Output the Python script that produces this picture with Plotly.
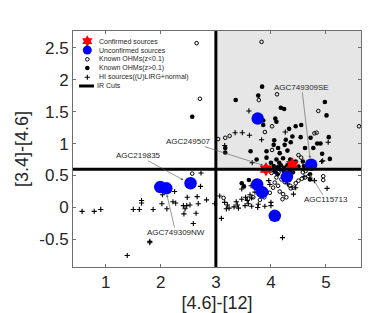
import plotly.graph_objects as go

# ---------------- data ----------------
confirmed_x = [3.91, 4.39]
confirmed_y = [0.60, 0.67]

unconf_x = [3.76, 4.73, 3.75, 3.84, 4.29, 4.07, 2.54, 1.99, 2.10]
unconf_y = [1.39, 0.67, 0.36, 0.24, 0.48, -0.13, 0.38, 0.32, 0.30]

ohm_low_x = [2.65, 2.71, 3.83, 3.78, 4.11, 4.86, 4.02, 5.60, 3.04, 3.17, 3.25, 3.89, 4.79, 4.83,
             4.02, 4.50, 4.55,
             2.57, 3.14, 3.59, 3.68, 4.16, 4.14, 4.01, 4.10, 4.19, 4.25, 4.31, 4.35, 4.13, 4.04,
             3.98, 3.92, 3.83, 3.88, 3.80, 4.22, 4.28, 4.21, 4.41, 4.45, 4.50, 4.56, 4.62, 4.68,
             4.95, 4.95, 3.77, 3.86, 4.07, 4.16, 4.36, 4.58, 4.63]
ohm_low_y = [2.57, 1.70, 2.59, 1.68, 1.77, 1.51, 1.27, 1.27, 1.07, 1.09, 1.12, 1.18, 1.16, 1.17,
             0.90, 0.82, 0.78,
             0.53, 0.15, 0.14, 0.16, 0.60, 0.55, 0.54, 0.47, 0.44, 0.40, 0.44, 0.34, 0.34, 0.31,
             0.23, 0.25, 0.18, 0.16, 0.12, 0.21, 0.16, 0.13, 0.31, 0.38, 0.42, 0.45, 0.47, 0.49,
             0.49, 0.43, 0.29, 0.29, 0.39, 0.25, 0.30, 0.55, 0.57]

ohm_high_x = [2.57, 3.84, 3.36, 3.77, 4.18, 4.24, 4.98, 5.01, 3.86, 3.86, 4.08, 4.10, 4.33, 4.45,
              4.55, 4.39, 4.54, 4.72, 5.05, 4.06, 3.17, 3.17, 3.63, 3.92, 3.92, 4.05, 4.13, 4.16,
              4.25, 4.27, 4.36, 4.30, 4.22, 4.10, 4.62, 4.84, 4.90, 4.93, 5.07, 4.77, 3.74,
              4.00, 4.05, 4.12, 4.18, 4.24, 4.30, 4.35, 4.45, 4.50, 4.58, 3.97, 4.15, 4.60,
              4.07, 4.23, 4.29, 4.71, 4.71, 3.60, 3.47, 3.51, 4.12, 4.35, 4.40]
ohm_high_y = [1.42, 1.89, 1.68, 1.75, 1.56, 1.54, 1.65, 1.44, 1.36, 1.29, 1.39, 1.34, 1.23, 1.27,
              1.29, 1.11, 1.10, 1.09, 1.10, 1.05, 0.93, 0.86, 0.88, 0.88, 0.78, 0.98, 0.93, 0.85,
              0.98, 1.06, 1.02, 0.89, 0.77, 0.75, 0.93, 1.00, 1.00, 0.84, 0.76, 0.93, 0.75,
              0.70, 0.65, 0.63, 0.66, 0.62, 0.66, 0.75, 0.72, 0.64, 0.72, 0.62, 0.70, 0.65,
              0.56, 0.57, 0.53, 0.44, 0.52, 0.43, 0.38, 0.33, 0.52, 0.58, 0.55]

hi_x = [3.60, 3.35, 3.48, 3.61, 4.26, 3.83, 3.16, 5.04, 4.92, 3.66, 4.94,
        2.73, 2.72, 2.25, 2.03, 2.48, 2.66, 2.83, 2.98, 1.65, 1.65, 2.02, 2.22, 2.27, 2.41,
        2.47, 2.53, 2.44, 2.68, 2.11, 1.86, 1.50, 1.61, 0.91, 0.79, 0.57, 2.42, 2.64, 2.59,
        1.80, 1.80, 1.39,
        3.07, 3.16, 3.21, 3.37, 3.39, 3.41, 3.24, 3.33, 3.59, 3.77, 3.76, 3.89, 4.00, 4.00,
        3.10, 3.47, 3.64, 3.71, 3.62, 3.65, 3.54, 3.57, 3.47, 3.53, 3.65, 3.96, 3.98, 4.79,
        5.02, 4.45, 4.41, 4.21, 4.60, 4.30, 3.19]
hi_y = [1.51, 1.17, 1.17, 1.13, 1.18, 1.06, 0.97, 1.02, 0.72, 0.70, 0.73,
        0.54, 0.33, 0.25, 0.20, 0.16, 0.17, 0.12, 0.06, 0.11, 0.07, 0.06, 0.09, 0.07, 0.03,
        0.03, 0.04, -0.02, 0.06, -0.02, -0.03, -0.03, -0.03, -0.03, -0.06, -0.06, -0.10, -0.09, -0.25,
        -0.53, -0.55, -0.75,
        0.18, 0.08, 0.04, 0.09, 0.04, -0.01, -0.01, 0.01, 0.06, 0.05, 0.00, 0.02, 0.03, 0.08,
        -0.17, 0.29, 0.34, 0.24, 0.20, 0.15, 0.16, 0.11, 0.13, 0.03, 0.02, 0.42, 0.36, 0.42,
        0.30, 0.31, 0.21, -0.47, 0.48, 0.37, -0.02]

IR_CUT_X = 3.0
IR_CUT_Y = 0.6

X_RANGE = [0.405, 5.636]
Y_RANGE = [-0.93, 2.76]
X_TICKS = [1, 2, 3, 4, 5]
Y_TICKS = [-0.5, 0, 0.5, 1, 1.5, 2, 2.5]
Y_TICK_LABELS = ["-0.5", "0", "0.5", "1", "1.5", "2", "2.5"]

# source labels: text, text-centre x/y, arrow-head x/y
label_text = ["AGC749309SE", "AGC249507", "AGC219835", "AGC749309NW", "AGC115713"]
label_tx = [4.56, 2.51, 1.60, 2.27, 5.00]
label_ty = [1.88, 1.03, 0.81, -0.39, 0.12]
label_hx = [4.71, 3.86, 2.41, 2.11, 4.71]
label_hy = [0.77, 0.66, 0.43, 0.20, 0.52]

legend_names = ["Confirmed sources", "Unconfirmed sources", "Known OHMs(z<0.1)",
                "Known OHMs(z>0.1)", "HI sources((U)LIRG+normal)", "IR Cuts"]

# ---------------- styles ----------------
TXT = "#262626"
AX = "#6e6e6e"
FONT = "Liberation Sans, Arial, sans-serif"

fig = go.Figure()

# shaded region
fig.add_shape(type="rect", x0=IR_CUT_X, x1=X_RANGE[1], y0=IR_CUT_Y, y1=Y_RANGE[1],
              xref="x", yref="y", fillcolor="#e6e6e6", line_width=0, layer="below")

plus_m = dict(symbol="cross-thin", size=3.7, color="black", line=dict(width=1.1, color="black"))
open_m = dict(symbol="circle-open", size=3.6, color="black", line=dict(width=1))
fill_m = dict(symbol="circle", size=4.6, color="black", line=dict(width=0))
blue_m = dict(symbol="circle", size=12.5, color="#0000ff", line=dict(width=0))
star_m = dict(symbol="hexagram", size=11, color="#ff0000", line=dict(width=0))

fig.add_trace(go.Scatter(x=hi_x, y=hi_y, mode="markers", marker=plus_m, showlegend=False))
fig.add_trace(go.Scatter(x=ohm_low_x, y=ohm_low_y, mode="markers", marker=open_m, showlegend=False))
fig.add_trace(go.Scatter(x=ohm_high_x, y=ohm_high_y, mode="markers", marker=fill_m, showlegend=False))
fig.add_trace(go.Scatter(x=unconf_x, y=unconf_y, mode="markers", marker=blue_m, showlegend=False))
fig.add_trace(go.Scatter(x=confirmed_x, y=confirmed_y, mode="markers", marker=star_m, showlegend=False))

# IR cut lines
fig.add_shape(type="line", x0=IR_CUT_X, x1=IR_CUT_X, y0=0, y1=1, xref="x", yref="y domain",
              line=dict(color="black", width=3))
fig.add_shape(type="line", x0=0, x1=1, y0=IR_CUT_Y, y1=IR_CUT_Y, xref="x domain", yref="y",
              line=dict(color="black", width=3))

# labels with arrows
for t, tx, ty, hx, hy in zip(label_text, label_tx, label_ty, label_hx, label_hy):
    fig.add_annotation(x=hx, y=hy, ax=tx, ay=ty, xref="x", yref="y", axref="x", ayref="y",
                       text=t, showarrow=True, arrowhead=2, arrowsize=0.8, arrowwidth=0.6,
                       arrowcolor="#555555", standoff=0, startstandoff=0,
                       font=dict(family=FONT, size=8, color=TXT), borderpad=0)

# manual legend (layout-level, in an overlay axis spanning [0,1])
LEG_Y = [0.957, 0.919, 0.880, 0.843, 0.804, 0.767]
LEG_SYM_X = 0.0497
LEG_TXT_X = 0.083
leg_markers = [
    dict(symbol="hexagram", size=9, color="#ff0000", line=dict(width=0)),
    dict(symbol="circle", size=9, color="#0000ff", line=dict(width=0)),
    dict(symbol="circle-open", size=3.6, color="black", line=dict(width=1)),
    dict(symbol="circle", size=4.6, color="black"),
    dict(symbol="cross-thin", size=3.7, color="black", line=dict(width=1.1, color="black")),
]
for m, ly in zip(leg_markers, LEG_Y[:5]):
    fig.add_trace(go.Scatter(x=[LEG_SYM_X], y=[ly], xaxis="x2", yaxis="y2", mode="markers",
                             marker=m, showlegend=False, hoverinfo="skip"))
fig.add_trace(go.Scatter(x=[0.021, 0.073], y=[LEG_Y[5], LEG_Y[5]], xaxis="x2", yaxis="y2",
                         mode="lines", line=dict(color="black", width=3), showlegend=False,
                         hoverinfo="skip"))
for name, ly in zip(legend_names, LEG_Y):
    fig.add_annotation(x=LEG_TXT_X if name != "IR Cuts" else 0.075, y=ly, xref="paper", yref="paper",
                       text=name, showarrow=False, xanchor="left", yanchor="middle",
                       font=dict(family=FONT, size=7, color=TXT))

axis_common = dict(showgrid=False, zeroline=False, showline=True, linecolor=AX, linewidth=1,
                   mirror="allticks", ticks="inside", ticklen=3, tickcolor=AX, tickwidth=1,
                   tickfont=dict(family=FONT, size=17, color=TXT))
fig.update_layout(
    width=390, height=313,
    margin=dict(l=65, r=37, t=23, b=50),
    paper_bgcolor="white", plot_bgcolor="white",
    showlegend=False,
    xaxis=dict(range=X_RANGE, tickvals=X_TICKS, **axis_common,
               title=dict(text="[4.6]-[12]", font=dict(family=FONT, size=18, color=TXT), standoff=4)),
    yaxis=dict(range=Y_RANGE, tickvals=Y_TICKS, ticktext=Y_TICK_LABELS, **axis_common,
               title=dict(text="[3.4]-[4.6]", font=dict(family=FONT, size=18, color=TXT), standoff=6)),
    xaxis2=dict(range=[0, 1], overlaying="x", visible=False, fixedrange=True),
    yaxis2=dict(range=[0, 1], overlaying="y", visible=False, fixedrange=True),
)

fig.write_html("out.html")
